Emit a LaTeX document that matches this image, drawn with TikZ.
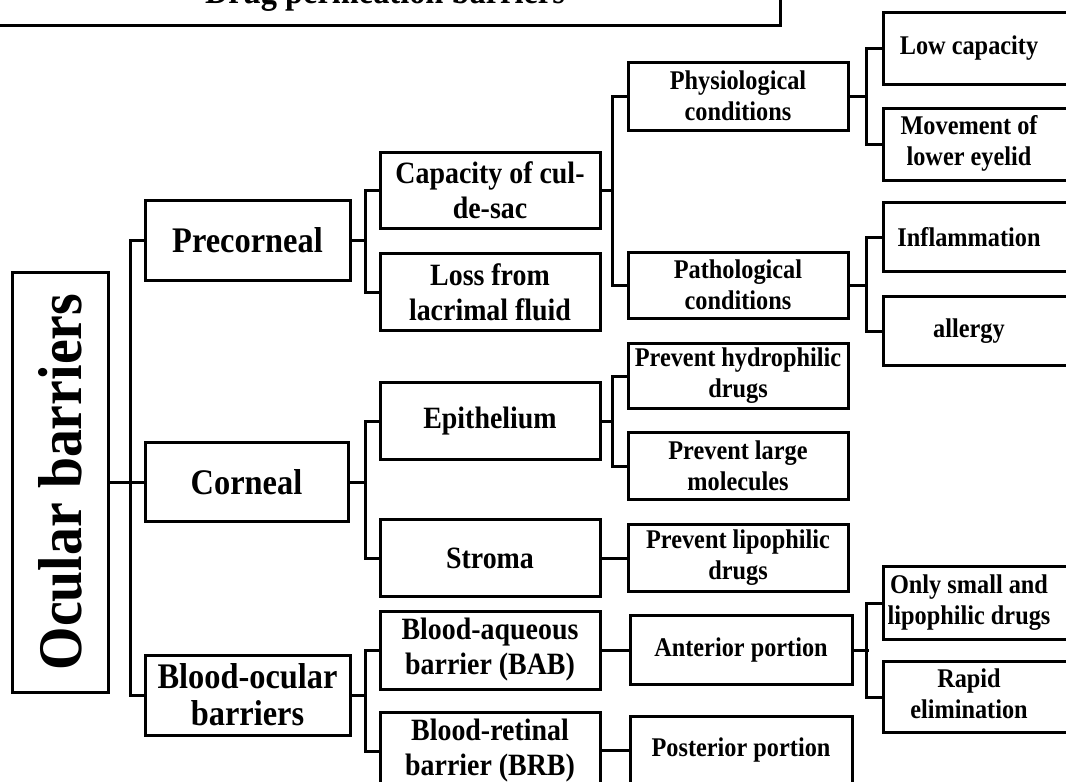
\documentclass[tikz,border=0pt]{standalone}
\usepackage{fontspec}
\setmainfont{Liberation Serif}[FakeStretch=0.9]
\begin{document}
\begin{tikzpicture}[x=1pt,y=-1pt,
  bx/.style={draw=black, line width=3pt, inner sep=0pt, outer sep=0pt, align=center, font=\bfseries},
  fB/.style={font=\fontsize{36}{37}\selectfont\bfseries},
  fC/.style={font=\fontsize{31}{35}\selectfont\bfseries},
  fD/.style={font=\fontsize{27}{31}\selectfont\bfseries},
  ln/.style={line width=3pt, line cap=rect}]
\path[use as bounding box] (0,0) rectangle (1066,782);
\clip (0,0) rectangle (1066,782);

% title (cut off at top)
\node[bx, fB, minimum width=790, minimum height=61] (title) at (385,-5.5) {Drug permeation barriers};

% root
\node[bx, minimum width=96, minimum height=420] (oc) at (60,482)
  {\rotatebox{90}{\fontsize{62}{66}\selectfont\bfseries Ocular barriers}};

% level 1
\node[bx, fB, minimum width=205, minimum height=80] (pre) at (247.5,240) {Precorneal};
\node[bx, fB, minimum width=203, minimum height=79] (cor) at (246.5,482) {Corneal};
\node[bx, fB, minimum width=205, minimum height=80] (boc) at (247.5,695) {Blood-ocular\\barriers};

% level 2
\node[bx, fC, minimum width=220, minimum height=76] (cap) at (490,190) {Capacity of cul-\\de-sac};
\node[bx, fC, minimum width=220, minimum height=77] (los) at (490,292) {Loss from\\lacrimal fluid};
\node[bx, fC, minimum width=220, minimum height=77] (epi) at (490,421) {Epithelium};
\node[bx, fC, minimum width=220, minimum height=77] (str) at (490,558) {Stroma};
\node[bx, fC, minimum width=220, minimum height=78] (bab) at (490,650) {Blood-aqueous\\barrier (BAB)};
\node[bx, fC, minimum width=220, minimum height=78] (brb) at (490,751) {Blood-retinal\\barrier (BRB)};

% level 3
\node[bx, fD, minimum width=220, minimum height=68] (phy) at (738,96) {Physiological\\conditions};
\node[bx, fD, minimum width=220, minimum height=66] (pat) at (738,285) {Pathological\\conditions};
\node[bx, fD, minimum width=220, minimum height=65] (hyd) at (738,376) {Prevent hydrophilic\\drugs};
\node[bx, fD, minimum width=220, minimum height=67] (lar) at (738,466) {Prevent large\\molecules};
\node[bx, fD, minimum width=220, minimum height=67] (lip) at (738,558) {Prevent lipophilic\\drugs};
\node[bx, fD, minimum width=222, minimum height=69] (ant) at (741,650) {Anterior portion};
\node[bx, fD, minimum width=222, minimum height=68] (pos) at (741,750) {Posterior portion};

% level 4 (cut off at right)
\node[bx, fD, minimum width=200, minimum height=72] (low) at (983,48) {\hspace*{-28pt}Low capacity};
\node[bx, fD, minimum width=200, minimum height=72] (mov) at (983,144) {\hspace*{-28pt}\begin{tabular}{@{}c@{}}Movement of\\lower eyelid\end{tabular}};
\node[bx, fD, minimum width=200, minimum height=69] (inf) at (983,237) {\hspace*{-28pt}Inflammation};
\node[bx, fD, minimum width=200, minimum height=69] (all) at (983,331) {\hspace*{-28pt}allergy};
\node[bx, fD, minimum width=200, minimum height=73] (sma) at (983,603) {\hspace*{-28pt}\begin{tabular}{@{}c@{}}Only small and\\lipophilic drugs\end{tabular}};
\node[bx, fD, minimum width=200, minimum height=71] (rap) at (983,697) {\hspace*{-28pt}\begin{tabular}{@{}c@{}}Rapid\\elimination\end{tabular}};

% connectors: root to level 1
\draw[ln] (oc.east) -- (oc.east -| cor.west);
\draw[ln] (pre.west) -- ++(-15,0) |- (boc.west);

% level 1 to level 2
\draw[ln] (pre.east) -- ++(15,0);
\draw[ln] (cap.west) -- ++(-15,0) |- (los.west);
\draw[ln] (cor.east) -- ++(16,0);
\draw[ln] (epi.west) -- ++(-15,0) |- (str.west);
\draw[ln] (boc.east) -- ++(15,0);
\draw[ln] (bab.west) -- ++(-15,0) |- (brb.west);

% level 2 to level 3
\draw[ln] (cap.east) -- ++(12,0);
\draw[ln] (phy.west) -- ++(-16,0) |- (pat.west);
\draw[ln] (epi.east) -- ++(12,0);
\draw[ln] (hyd.west) -- ++(-16,0) |- (lar.west);
\draw[ln] (str.east) -- (lip.west);
\draw[ln] (bab.east) -- (ant.west);
\draw[ln] (brb.east |- pos.west) -- (pos.west);

% level 3 to level 4
\draw[ln] (phy.east) -- ++(18,0);
\draw[ln] (low.west) -- ++(-17,0) |- (mov.west);
\draw[ln] (pat.east) -- ++(18,0);
\draw[ln] (inf.west) -- ++(-17,0) |- (all.west);
\draw[ln] (ant.east) -- ++(15,0);
\draw[ln] (sma.west) -- ++(-17,0) |- (rap.west);
\end{tikzpicture}
\end{document}
